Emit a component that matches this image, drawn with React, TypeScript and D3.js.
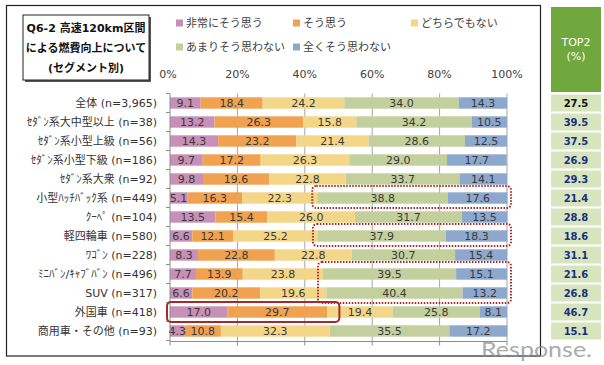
import React from 'react'
import * as d3 from 'd3'

// segment names (legend order)
const seriesNames = ['非常にそう思う', 'そう思う', 'どちらでもない', 'あまりそう思わない', '全くそう思わない']
const seriesColors = ['#C890B7', '#F0A250', '#F4D689', '#C4CF9E', '#8EA7CD']

const categories = [
  '全体 (n=3,965)',
  'ｾﾀﾞﾝ系大中型以上 (n=38)',
  'ｾﾀﾞﾝ系小型上級 (n=56)',
  'ｾﾀﾞﾝ系小型下級 (n=186)',
  'ｾﾀﾞﾝ系大衆 (n=92)',
  '小型ﾊｯﾁﾊﾞｯｸ系 (n=449)',
  'ｸｰﾍﾟ (n=104)',
  '軽四輪車 (n=580)',
  'ﾜｺﾞﾝ (n=228)',
  'ﾐﾆﾊﾞﾝ/ｷｬﾌﾞﾊﾞﾝ (n=496)',
  'SUV (n=317)',
  '外国車 (n=418)',
  '商用車・その他 (n=93)',
]

const veryMuch = [9.1, 13.2, 14.3, 9.7, 9.8, 5.1, 13.5, 6.6, 8.3, 7.7, 6.6, 17.0, 4.3]
const somewhat = [18.4, 26.3, 23.2, 17.2, 19.6, 16.3, 15.4, 12.1, 22.8, 13.9, 20.2, 29.7, 10.8]
const neutral = [24.2, 15.8, 21.4, 26.3, 22.8, 22.3, 26.0, 25.2, 22.8, 23.8, 19.6, 19.4, 32.3]
const notMuch = [34.0, 34.2, 28.6, 29.0, 33.7, 38.8, 31.7, 37.9, 30.7, 39.5, 40.4, 25.8, 35.5]
const notAtAll = [14.3, 10.5, 12.5, 17.7, 14.1, 17.6, 13.5, 18.3, 15.4, 15.1, 13.2, 8.1, 17.2]
const top2 = [27.5, 39.5, 37.5, 26.9, 29.3, 21.4, 28.8, 18.6, 31.1, 21.6, 26.8, 46.7, 15.1]

const xTicks = [0, 20, 40, 60, 80, 100]

// highlighted rows (dotted boxes) and the solid box row
const dottedGroups = [[5], [7], [9, 10]]
const solidRow = 11

const keys = ['s0', 's1', 's2', 's3', 's4']

export default function App() {
  const width = 604
  const height = 365

  const table = categories.map((c, i) => ({
    cat: c,
    s0: veryMuch[i],
    s1: somewhat[i],
    s2: neutral[i],
    s3: notMuch[i],
    s4: notAtAll[i],
  }))
  const stacked = d3.stack<any>().keys(keys)(table)

  const x = d3.scaleLinear().domain([0, 100]).range([170, 507])
  const y = d3.scaleBand().domain(categories).range([93.5, 340.5]).paddingInner(0.4).paddingOuter(0.2)
  const step = y.step()
  const rowCenter = (i: number) => (y(categories[i]) as number) + y.bandwidth() / 2

  const font = "'DejaVu Sans', 'Noto Sans CJK JP', sans-serif"
  const axisY = 341.5
  const topBand = 93.5

  return (
    <svg width={width} height={height} style={{ position: 'absolute', left: 0, top: 0, background: '#fff' }} fontFamily={font}>
      <rect x={0} y={0} width={width} height={height} fill="#fff" />
      {/* main frame */}
      <rect x={6.5} y={5.5} width={534} height={350.5} fill="none" stroke="#222" strokeWidth={1.2} />

      {/* title box with shadow */}
      <rect x={25} y={17} width={126} height={65} fill="#555" />
      <rect x={23} y={15} width={126} height={65} fill="#fff" stroke="#222" strokeWidth={1} />
      <g fontWeight="bold" fontSize={11} textAnchor="middle" fill="#111">
        <text x={86} y={32}>Q6-2 高速120km区間</text>
        <text x={86} y={52}>による燃費向上について</text>
        <text x={86} y={72}>(セグメント別)</text>
      </g>

      {/* legend */}
      <g fontSize={11} fill="#404040">
        {seriesNames.map((n, i) => {
          const lx = [176, 293, 411, 176, 293][i]
          const ly = i < 3 ? 23 : 47
          return (
            <g key={n}>
              <rect x={lx} y={ly - 3.5} width={7} height={7} fill={seriesColors[i]} />
              <text x={lx + 10} y={ly + 4}>{n}</text>
            </g>
          )
        })}
      </g>

      {/* x tick labels */}
      <g fontSize={11} fill="#404040" textAnchor="middle">
        {xTicks.map(t => (
          <text key={t} x={x(t) - (t === 0 ? 2 : 0)} y={78}>{t}%</text>
        ))}
      </g>

      {/* gridlines */}
      {xTicks.slice(1).map(t => (
        <line key={t} x1={x(t)} x2={x(t)} y1={topBand} y2={axisY} stroke="#A6A6A6" strokeWidth={1} />
      ))}

      {/* bars */}
      {stacked.map((layer, si) => (
        <g key={si} fill={seriesColors[si]}>
          {layer.map((d, i) => (
            <rect key={i} x={x(d[0])} y={y(categories[i])} width={x(d[1]) - x(d[0])} height={y.bandwidth()} />
          ))}
        </g>
      ))}

      {/* bar labels */}
      <g fontSize={11} fill="#3a3a3a" textAnchor="middle">
        {stacked.map((layer, si) =>
          layer.map((d, i) => (
            <text key={si + '-' + i} x={(x(d[0]) + x(d[1])) / 2} y={rowCenter(i) + 4}>
              {(d[1] - d[0]).toFixed(1)}
            </text>
          ))
        )}
      </g>

      {/* axes */}
      <line x1={x(0)} x2={x(0)} y1={topBand} y2={axisY} stroke="#8C8C8C" />
      {d3.range(categories.length + 1).map(i => (
        <line key={i} x1={x(0) - 4} x2={x(0)} y1={topBand + i * step} y2={topBand + i * step} stroke="#8C8C8C" />
      ))}
      <line x1={x(0)} x2={x(100)} y1={axisY} y2={axisY} stroke="#8C8C8C" />
      {xTicks.map(t => (
        <line key={t} x1={x(t)} x2={x(t)} y1={axisY} y2={axisY + 4} stroke="#8C8C8C" />
      ))}

      {/* category labels */}
      <g fontSize={11} fill="#333" textAnchor="end">
        {categories.map((c, i) => (
          <text key={c} x={157} y={rowCenter(i) + 4}>{c}</text>
        ))}
      </g>

      {/* dotted highlight boxes */}
      {dottedGroups.map((g, gi) => {
        const start = d3.min(g, i => veryMuch[i] + somewhat[i] + neutral[i]) as number
        const x0 = x(start) - 5
        const x1 = x(100) + 4
        const y0 = rowCenter(g[0]) - 12
        const y1 = rowCenter(g[g.length - 1]) + 10
        return (
          <rect key={gi} x={x0} y={y0} width={x1 - x0} height={y1 - y0} rx={4}
            fill="none" stroke="#A82B2B" strokeWidth={2} strokeDasharray="1.5 1.5" />
        )
      })}

      {/* solid box around top2 of 外国車 */}
      <rect x={x(0) - 3} y={rowCenter(solidRow) - 10} width={x(top2[solidRow]) + 12 - (x(0) - 3)} height={20} rx={4}
        fill="none" stroke="#A52A2A" strokeWidth={2} />

      {/* TOP2 column */}
      <rect x={551} y={7} width={50} height={85} fill="#71A83D" />
      <g fill="#fff" fontSize={11} textAnchor="middle">
        <text x={576} y={46}>TOP2</text>
        <text x={576} y={60}>(%)</text>
      </g>
      {top2.map((v, i) => (
        <g key={i}>
          <rect x={551} y={rowCenter(i) - 8.5} width={50} height={17} fill="#D7E5BE" />
          <text x={576} y={rowCenter(i) + 4} textAnchor="middle" fontSize={10} fontWeight="bold"
            fill={i === 0 ? '#111' : '#1C2F80'}>{v.toFixed(1)}</text>
        </g>
      ))}

      {/* watermark */}
      <text x={481} y={357} fontSize={22} fill="#8f8f8f" opacity={0.75} textLength={111}
        lengthAdjust="spacingAndGlyphs" fontFamily="'Lato', 'DejaVu Sans', sans-serif">Response.</text>
    </svg>
  )
}
